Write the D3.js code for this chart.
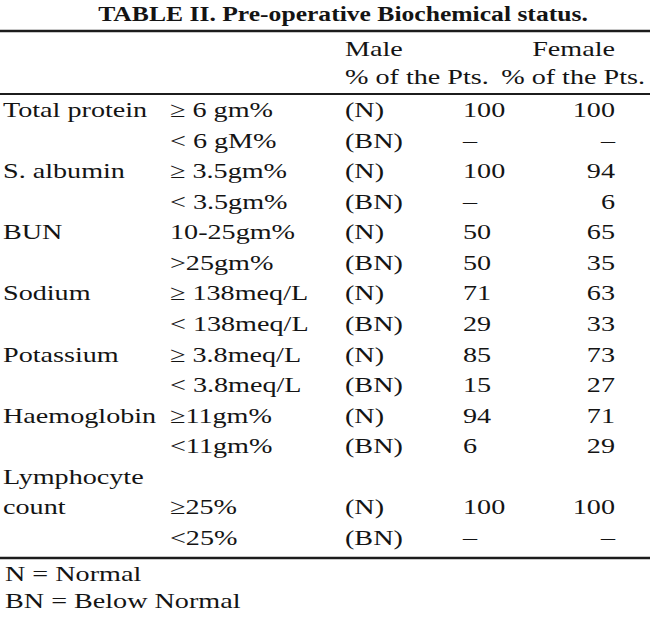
<!DOCTYPE html>
<html>
<head>
<meta charset="utf-8">
<script src="https://cdn.jsdelivr.net/npm/d3@7"></script>
<style>
  body { margin: 0; background: #fff; }
  text { font-family: "Liberation Serif", "Times New Roman", serif; fill: #141414; }
</style>
</head>
<body>
<div id="table-chart"></div>
<script>
var width = 650
var height = 621
var stretch = 1.28   // the scan is wider than plain Times
var bodySize = 22

var title = "TABLE II. Pre-operative Biochemical status."
var groups = ["Male", "Female"]
var groupSub = "% of the Pts."
var params = ["Total protein", "", "S. albumin", "", "BUN", "", "Sodium", "", "Potassium", "", "Haemoglobin", "", "Lymphocyte", "count", ""]
var ranges = ["≥ 6 gm%", "< 6 gM%", "≥ 3.5gm%", "< 3.5gm%", "10-25gm%", ">25gm%", "≥ 138meq/L", "< 138meq/L", "≥ 3.8meq/L", "< 3.8meq/L", "≥11gm%", "<11gm%", "", "≥25%", "<25%"]
var statuses = ["(N)", "(BN)", "(N)", "(BN)", "(N)", "(BN)", "(N)", "(BN)", "(N)", "(BN)", "(N)", "(BN)", "", "(N)", "(BN)"]
var male = ["100", "–", "100", "–", "50", "50", "71", "29", "85", "15", "94", "6", "", "100", "–"]
var female = ["100", "–", "94", "6", "65", "35", "63", "33", "73", "27", "71", "29", "", "100", "–"]
var notes = ["N = Normal", "BN = Below Normal"]

var svg = d3.select("div#table-chart")
  .append("svg")
  .attr("width", width)
  .attr("height", height)

var rowY = d3.scalePoint()
  .domain(d3.range(params.length))
  .range([117, 545])

// column x positions and anchors
var cols = [
  { key: params, x: 3, anchor: "start" },
  { key: ranges, x: 170, anchor: "start" },
  { key: statuses, x: 345, anchor: "start" },
  { key: male, x: 463, anchor: "start" },
  { key: female, x: 615, anchor: "end" }
]

function putText(sel, x, y, anchor, size, weight) {
  sel.attr("transform", "translate(" + x + "," + y + ") scale(" + stretch + ",1)")
    .attr("text-anchor", anchor)
    .attr("font-size", size)
    .attr("font-weight", weight || "normal")
}

function hline(y, w) {
  svg.append("line")
    .attr("x1", 0).attr("x2", width)
    .attr("y1", y).attr("y2", y)
    .attr("stroke", "#1c1c1c")
    .attr("stroke-width", w)
}

// title
svg.append("text").text(title).call(putText, width / 2 + 18, 21, "middle", 20, "bold")

hline(31, 2.6)

// header
svg.append("text").text(groups[0]).call(putText, 345, 56, "start", bodySize)
svg.append("text").text(groups[1]).call(putText, 615, 56, "end", bodySize)
svg.append("text").text(groupSub).call(putText, 345, 84, "start", bodySize)
svg.append("text").text(groupSub).call(putText, 645, 84, "end", bodySize)

hline(94, 2.2)

// body rows
cols.forEach(function(c) {
  svg.append("g")
    .selectAll("text")
    .data(c.key)
    .enter()
    .append("text")
    .text(d => d)
    .each(function(d, i) {
      d3.select(this).call(putText, c.x, rowY(i), c.anchor, bodySize)
    })
})

hline(558, 2.6)

// footnotes
svg.append("g")
  .selectAll("text")
  .data(notes)
  .enter()
  .append("text")
  .text(d => d)
  .each(function(d, i) {
    d3.select(this).call(putText, 5, 581 + i * 27, "start", bodySize)
  })
</script>
</body>
</html>
